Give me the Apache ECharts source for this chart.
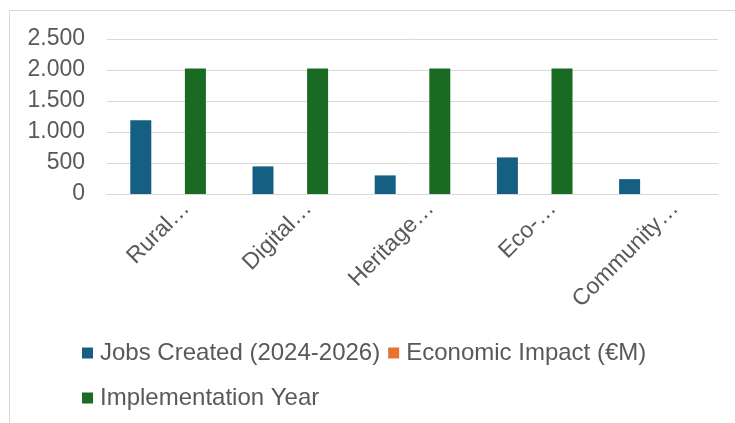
<!DOCTYPE html>
<html>
<head>
<meta charset="utf-8">
<script src="https://cdn.jsdelivr.net/npm/echarts@6/dist/echarts.min.js"></script>
<style>
html,body{margin:0;padding:0;background:#fff;}
#frame{position:absolute;left:9px;top:10px;width:740px;height:430px;border:1px solid #D9D9D9;box-sizing:border-box;}
#chart{position:absolute;left:0;top:0;width:735px;height:423px;}
</style>
</head>
<body>
<div id="frame"></div>
<div id="chart"></div>
<script>
const categories = ['Rural…', 'Digital…', 'Heritage…', 'Eco-…', 'Community…'];
const jobsCreated = [1190, 445, 300, 590, 240];
const economicImpact = [0, 0, 0, 0, 0];
const implementationYear = [2024, 2024, 2025, 2024, null];
const yTicks = { min: 0, max: 2500, interval: 500 };

const font = 'Liberation Sans, Arial, sans-serif';
const chart = echarts.init(document.getElementById('chart'), null, { renderer: 'canvas' });
const legendText = { fontFamily: font, fontSize: 24, color: '#595959', padding: [0, 0, 0, 2] };
chart.setOption({
  animation: false,
  grid: { left: 107, right: 17, top: 39, bottom: 229, containLabel: false },
  legend: [
    {
      data: ['Jobs Created (2024-2026)', 'Economic Impact (€M)'],
      left: 82, top: 341, padding: 0, icon: 'rect', itemWidth: 11, itemHeight: 11, itemGap: 8,
      textStyle: legendText
    },
    {
      data: ['Implementation Year'],
      left: 82, top: 386, padding: 0, icon: 'rect', itemWidth: 11, itemHeight: 11, itemGap: 8,
      textStyle: legendText
    }
  ],
  xAxis: {
    type: 'category',
    data: categories,
    axisLine: { show: true, lineStyle: { color: '#D9D9D9', width: 1 } },
    axisTick: { show: false },
    axisLabel: {
      rotate: 45, interval: 0, fontFamily: font, fontSize: 23, color: '#595959',
      margin: -7, verticalAlign: 'top', lineHeight: 51
    }
  },
  yAxis: {
    type: 'value',
    min: yTicks.min, max: yTicks.max, interval: yTicks.interval,
    axisLine: { show: false },
    axisTick: { show: false },
    splitLine: { lineStyle: { color: '#D9D9D9', width: 1 } },
    axisLabel: {
      fontFamily: font, fontSize: 23, color: '#595959', margin: 22,
      formatter: v => String(v).replace(/\B(?=(\d{3})+(?!\d))/g, '.')
    }
  },
  series: [
    { name: 'Jobs Created (2024-2026)', type: 'bar', data: jobsCreated, barWidth: 21, barGap: '30%', itemStyle: { color: '#156082' } },
    { name: 'Economic Impact (€M)', type: 'bar', data: economicImpact, barWidth: 21, barGap: '30%', itemStyle: { color: '#E97132' } },
    { name: 'Implementation Year', type: 'bar', data: implementationYear, barWidth: 21, barGap: '30%', itemStyle: { color: '#196B24' } }
  ]
});
</script>
</body>
</html>
